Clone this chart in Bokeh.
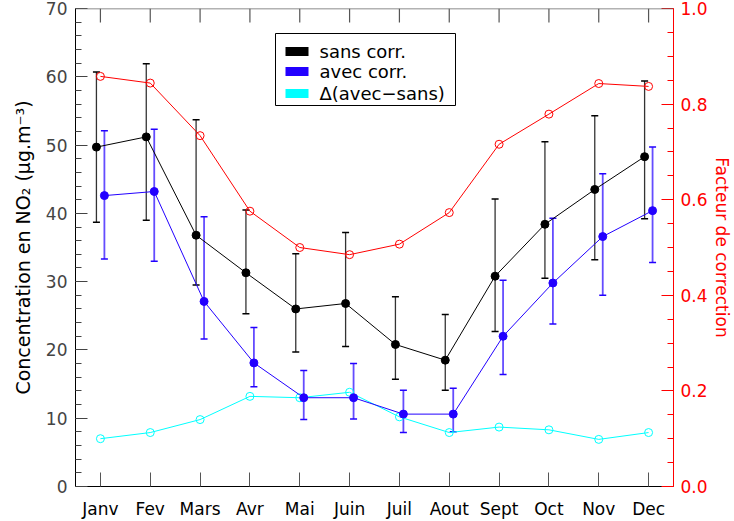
from math import pi
from bokeh.plotting import figure
from bokeh.models import (Range1d, LinearAxis, FixedTicker, Whisker, ColumnDataSource,
                          PrintfTickFormatter, TeeHead, BoxAnnotation, Label, Span)
from bokeh.embed import file_html
from bokeh.resources import INLINE

months = ["Janv", "Fev", "Mars", "Avr", "Mai", "Juin", "Juil", "Aout", "Sept", "Oct", "Nov", "Dec"]
sans = [49.7, 51.2, 36.8, 31.3, 26.0, 26.8, 20.8, 18.5, 30.8, 38.4, 43.5, 48.3]
sans_lo = [38.7, 39.0, 29.5, 25.3, 19.7, 20.5, 15.7, 14.1, 22.7, 30.5, 33.2, 39.2]
sans_hi = [60.7, 61.9, 53.7, 40.5, 34.1, 37.2, 27.8, 25.2, 42.1, 50.5, 54.3, 59.4]
avec = [42.6, 43.2, 27.1, 18.1, 13.0, 13.0, 10.6, 10.6, 22.0, 29.8, 36.6, 40.4]
avec_lo = [33.3, 33.0, 21.6, 14.6, 9.8, 9.9, 7.9, 8.0, 16.4, 23.8, 28.0, 32.8]
avec_hi = [52.1, 52.3, 39.5, 23.3, 17.0, 18.0, 14.1, 14.4, 30.2, 39.3, 45.8, 49.7]
delta = [7.0, 7.9, 9.8, 13.2, 13.0, 13.8, 10.2, 7.9, 8.7, 8.3, 6.9, 7.9]
facteur = [0.858, 0.844, 0.734, 0.576, 0.500, 0.485, 0.507, 0.573, 0.716, 0.779, 0.843, 0.837]
legend_labels = ["sans corr.", "avec corr.", "\u0394(avec\u2212sans)"]
left_title = "Concentration en NO\u2082 (\u03bcg.m\u207b\u00b3)"
right_title = "Facteur de correction"

FONT = "DejaVu Sans"
FS = "17px"
BLUE = "#2200ff"
CYAN = "#00ffff"
RED = "#ff0000"
legend_colors = ["black", BLUE, CYAN]

xm = list(range(1, len(months) + 1))
xs = [m - 0.08 for m in xm]
xa = [m + 0.08 for m in xm]

p = figure(width=734, height=521, output_backend="svg", toolbar_location=None,
           x_range=Range1d(0.5, 12.5), y_range=Range1d(0, 70),
           min_border_left=75, min_border_right=55, min_border_top=8, min_border_bottom=33,
           x_axis_location=None, y_axis_location=None)
p.extra_y_ranges = {"fac": Range1d(0, 1)}
p.xgrid.visible = False
p.ygrid.visible = False
p.outline_line_color = None
p.background_fill_color = "white"
p.border_fill_color = "white"

# bottom axis
xb = LinearAxis(ticker=FixedTicker(ticks=xm, minor_ticks=[]),
                major_label_overrides={m: months[i] for i, m in enumerate(xm)})
xb.major_tick_in = 14
xb.major_tick_out = 0
xb.minor_tick_in = 0
xb.minor_tick_out = 0
xb.major_label_standoff = 12
xb.major_label_text_font = FONT
xb.major_label_text_font_size = FS
xb.major_label_text_color = "black"
xb.axis_line_color = "black"
xb.major_tick_line_color = "#555555"
p.add_layout(xb, "below")

# top frame line and ticks
p.add_layout(Span(location=p.y_range.end, dimension="width", line_color="#666666", line_width=1.5))
p.ray(x=xm, y=[p.y_range.end] * len(xm), length=14, length_units="screen", angle=-pi / 2,
      line_color="#555555", line_width=1.2)

# left axis
yl = LinearAxis(ticker=FixedTicker(ticks=list(range(0, 71, 10)), minor_ticks=list(range(0, 71, 2))),
                axis_label=left_title)
yl.major_tick_in = 12
yl.major_tick_out = 0
yl.minor_tick_in = 6
yl.minor_tick_out = 0
yl.major_label_standoff = 8
yl.major_label_text_font = FONT
yl.major_label_text_font_size = FS
yl.axis_label_text_font = FONT
yl.axis_label_text_font_size = "19px"
yl.axis_label_text_font_style = "normal"
yl.axis_label_text_color = "black"
yl.axis_label_standoff = 9
yl.axis_line_color = "black"
yl.major_tick_line_color = "#444444"
yl.minor_tick_line_color = "#444444"
p.add_layout(yl, "left")

# right axis
yr = LinearAxis(y_range_name="fac",
                ticker=FixedTicker(ticks=[0, 0.2, 0.4, 0.6, 0.8, 1.0],
                                   minor_ticks=[i * 0.05 for i in range(21)]),
                formatter=PrintfTickFormatter(format="%.1f"),
                axis_label=right_title)
yr.major_tick_in = 12
yr.major_tick_out = 0
yr.minor_tick_in = 6
yr.minor_tick_out = 0
yr.major_label_standoff = 7
yr.major_label_text_font = FONT
yr.major_label_text_font_size = FS
yr.major_label_text_color = RED
yr.axis_label_text_font = FONT
yr.axis_label_text_font_size = "17px"
yr.axis_label_text_font_style = "normal"
yr.axis_label_text_color = RED
yr.axis_label_standoff = 1
yr.axis_line_color = RED
yr.major_tick_line_color = RED
yr.minor_tick_line_color = RED
p.add_layout(yr, "right")

# error bars
src_s = ColumnDataSource(dict(x=xs, lo=sans_lo, hi=sans_hi))
src_a = ColumnDataSource(dict(x=xa, lo=avec_lo, hi=avec_hi))
for src, col, lw, al in ((src_s, "black", 1.3, 0.8), (src_a, BLUE, 1.8, 0.7)):
    w = Whisker(source=src, base="x", lower="lo", upper="hi", line_color=col, line_width=lw,
                line_alpha=al,
                upper_head=TeeHead(size=7, line_color=col, line_width=1.5),
                lower_head=TeeHead(size=7, line_color=col, line_width=1.5))
    p.add_layout(w)

# series
p.line(xm, delta, line_color=CYAN, line_width=1)
p.scatter(xm, delta, marker="circle", size=8, fill_color=None, line_color=CYAN, line_width=1)

p.line(xa, avec, line_color=BLUE, line_width=1)
p.scatter(xa, avec, marker="circle", size=8, fill_color=BLUE, line_color=BLUE)

p.line(xs, sans, line_color="black", line_width=1)
p.scatter(xs, sans, marker="circle", size=8, fill_color="black", line_color="black")

p.line(xm, facteur, line_color=RED, line_width=1, y_range_name="fac")
p.scatter(xm, facteur, marker="circle", size=8, fill_color=None, line_color=RED, line_width=1,
          y_range_name="fac")

# legend (screen units relative to the plot frame)
p.add_layout(BoxAnnotation(left=200, right=380, top=453, bottom=381,
                           left_units="screen", right_units="screen",
                           top_units="screen", bottom_units="screen",
                           fill_color="white", fill_alpha=1, line_color="black", line_width=1,
                           line_alpha=1))
row_y = [435, 415, 393]
for lab, col, yy in zip(legend_labels, legend_colors, row_y):
    p.add_layout(BoxAnnotation(left=210, right=233, top=yy + 4.5, bottom=yy - 4.5,
                               left_units="screen", right_units="screen",
                               top_units="screen", bottom_units="screen",
                               fill_color=col, fill_alpha=1, line_color=None))
    p.add_layout(Label(x=244, y=yy, x_units="screen", y_units="screen", text=lab,
                       text_baseline="middle", text_font=FONT, text_font_size="18px",
                       text_color="black"))

open("out.html", "w").write(file_html(p, INLINE))
